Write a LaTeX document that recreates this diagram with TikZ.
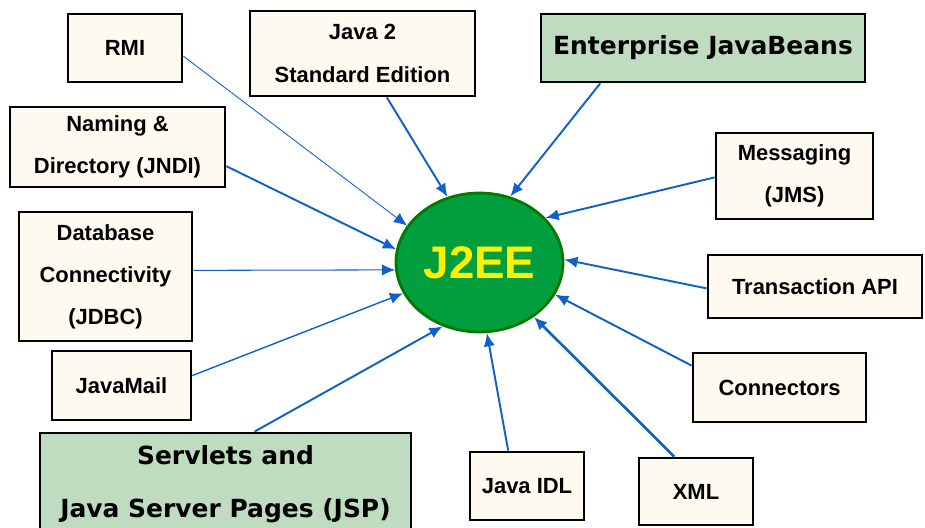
\documentclass[tikz,border=0pt]{standalone}
\usepackage{fontspec}
\setmainfont{Liberation Sans}
\newfontfamily\widefont{DejaVu Sans}
\usepackage{tikz}
\usetikzlibrary{
    arrows.meta,
    shapes.geometric
}
\definecolor{cream}{RGB}{255,250,240}
\definecolor{palegreen}{RGB}{192,220,192}
\definecolor{coregreen}{RGB}{0,158,61}
\definecolor{darkgreen}{RGB}{0,122,0}
\definecolor{linkblue}{RGB}{16,96,204}
\tikzstyle{module} = [
    rectangle,
    draw=black,
    line width=1.6pt,
    fill=cream,
    align=center,
    inner sep=2pt,
    font=\fontsize{12.5}{24}\selectfont\bfseries
]
\tikzstyle{bigmodule} = [
    module,
    fill=palegreen,
    font=\widefont\fontsize{14.2}{30}\selectfont\bfseries
]
\tikzstyle{core} = [
    ellipse,
    draw=darkgreen,
    line width=1.6pt,
    fill=coregreen,
    text=yellow,
    inner sep=0pt,
    minimum width=3.34cm,
    minimum height=2.78cm,
    font=\fontsize{26}{30}\selectfont\bfseries
]
\tikzstyle{arrow} = [
    -{Latex[length=7.5pt,width=6.5pt]},
    line width=1.1pt,
    draw=linkblue
]

\begin{document}
\begin{tikzpicture}[x=0.02cm, y=-0.02cm]
        \useasboundingbox (0,0) rectangle (925,527);

        % Centre
        \node[core] (j2ee) at (479.5,262.5) {J2EE};

        % Left side
        \node[module, minimum width=2.28cm, minimum height=1.36cm] (rmi) at (125,48) {RMI};
        \node[module, minimum width=4.5cm, minimum height=1.7cm] (jse) at (362.5,53.5) {Java 2\\Standard Edition};
        \node[module, minimum width=4.3cm, minimum height=1.6cm] (jndi) at (117.5,147) {Naming \&\\Directory (JNDI)};
        \node[module, minimum width=3.46cm, minimum height=2.58cm] (jdbc) at (105.5,276.5) {Database\\Connectivity\\(JDBC)};
        \node[module, minimum width=2.78cm, minimum height=1.38cm] (mail) at (121.5,385.5) {JavaMail};
        \node[bigmodule, minimum width=7.42cm, minimum height=2.04cm] (jsp) at (225.5,484) {Servlets and\\Java Server Pages (JSP)};

        % Right side
        \node[bigmodule, minimum width=6.48cm, minimum height=1.36cm] (ejb) at (703,48) {Enterprise JavaBeans};
        \node[module, minimum width=3.14cm, minimum height=1.72cm] (jms) at (794.5,176) {Messaging\\(JMS)};
        \node[module, minimum width=4.28cm, minimum height=1.26cm] (trans) at (815,286.5) {Transaction API};
        \node[module, minimum width=3.46cm, minimum height=1.38cm] (conn) at (779.5,387.5) {Connectors};
        \node[module, minimum width=2.28cm, minimum height=1.34cm] (xml) at (696,491.5) {XML};
        \node[module, minimum width=2.28cm, minimum height=1.36cm] (idl) at (527,486) {Java IDL};

        % Arrows
        \draw[arrow, line width=0.5pt] (rmi.-8) -- (j2ee.153);
        \draw[arrow] (jse.-61) -- (j2ee.116);
        \draw[arrow] (jndi.-10) -- (j2ee.171);
        \draw[arrow, line width=0.6pt] (jdbc.4) -- (j2ee.185);
        \draw[arrow, line width=0.8pt] (mail.8) -- (j2ee.202);
        \draw[arrow] (jsp.61) -- (j2ee.240);
        \draw[arrow] (ejb.199) -- (j2ee.65);
        \draw[arrow] (jms.181) -- (j2ee.34);
        \draw[arrow] (trans.181) -- (j2ee.2);
        \draw[arrow] (conn.166) -- (j2ee.337);
        \draw[arrow, line width=1.5pt] (xml.122) -- (j2ee.315);
        \draw[arrow] (idl.118) -- (j2ee.276);
    \end{tikzpicture}
\end{document}
